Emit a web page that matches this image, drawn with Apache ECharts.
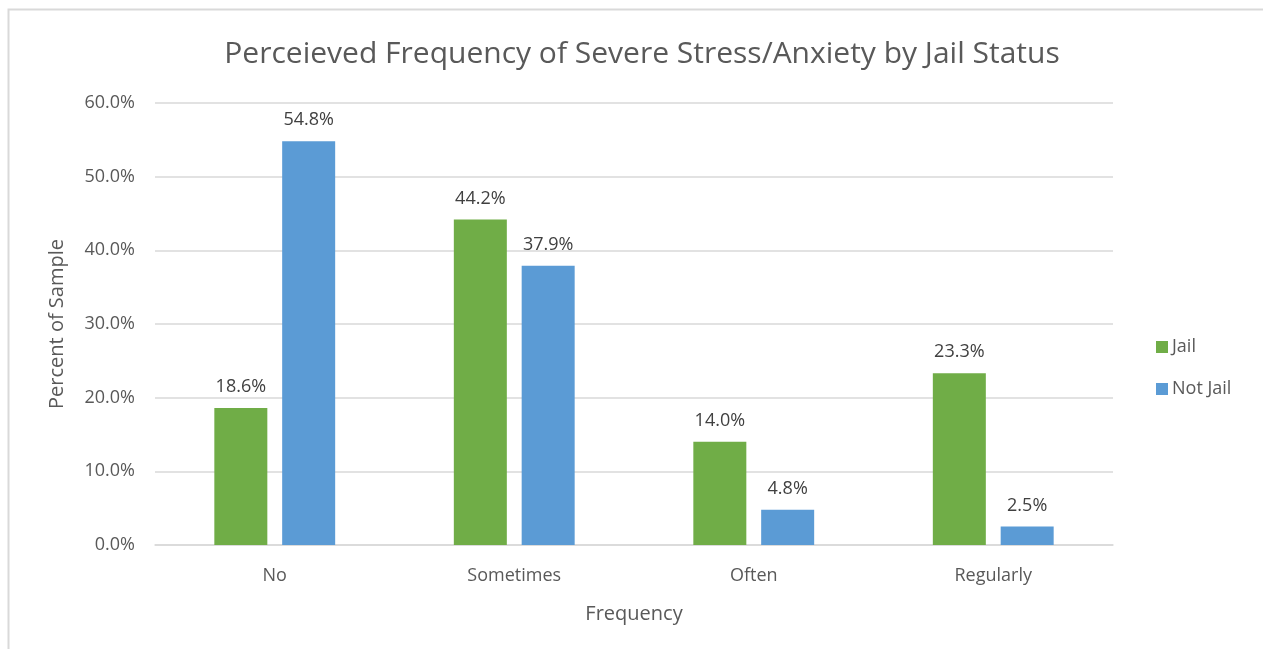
<!DOCTYPE html>
<html>
<head>
<meta charset="utf-8">
<script src="https://cdn.jsdelivr.net/npm/echarts@6/dist/echarts.min.js"></script>
<style>
  html, body { margin: 0; padding: 0; background: #ffffff; }
  #chart { width: 1263px; height: 649px; }
</style>
</head>
<body>
<div id="chart"></div>
<script>
// Response categories along the x axis
const categories = ['No', 'Sometimes', 'Often', 'Regularly'];
// Percent of sample per group
const jailValues = [18.6, 44.2, 14.0, 23.3];
const notJailValues = [54.8, 37.9, 4.8, 2.5];
const seriesNames = ['Jail', 'Not Jail'];

const FONT = '"Open Sans", Lato, sans-serif';
const TEXT = '#595959';

const chart = echarts.init(document.getElementById('chart'), null, { renderer: 'canvas' });

const labelStyle = {
  show: true,
  position: 'top',
  distance: 12,
  fontFamily: FONT,
  fontSize: 18,
  color: '#404040',
  formatter: p => p.value.toFixed(1) + '%'
};

chart.setOption({
  backgroundColor: '#ffffff',
  animation: false,
  graphic: [{
    type: 'rect',
    shape: { x: 8.5, y: 9.5, width: 1300, height: 700 },
    style: { fill: 'none', stroke: '#d9d9d9', lineWidth: 2 },
    silent: true
  }],
  title: {
    text: 'Perceieved Frequency of Severe Stress/Anxiety by Jail Status',
    left: 637,
    textAlign: 'center',
    top: 34,
    textStyle: { fontFamily: FONT, fontSize: 30, fontWeight: 'normal', color: TEXT }
  },
  legend: {
    orient: 'vertical',
    left: 1151,
    top: 333,
    itemWidth: 12,
    itemHeight: 12,
    itemGap: 24,
    icon: 'rect',
    data: seriesNames,
    textStyle: { fontFamily: FONT, fontSize: 18, color: TEXT, padding: [0, 0, 0, -1] }
  },
  grid: { left: 155, right: 150, top: 103, bottom: 104, containLabel: false },
  xAxis: {
    type: 'category',
    data: categories,
    name: 'Frequency',
    nameLocation: 'middle',
    nameGap: 59,
    nameTextStyle: { fontFamily: FONT, fontSize: 20, color: TEXT },
    axisLine: { lineStyle: { color: '#d9d9d9', width: 1.5 } },
    axisTick: { show: false },
    axisLabel: { fontFamily: FONT, fontSize: 18, color: TEXT, margin: 22 }
  },
  yAxis: {
    type: 'value',
    min: 0,
    max: 60,
    interval: 10,
    name: 'Percent of Sample',
    nameLocation: 'middle',
    nameGap: 88,
    nameRotate: 90,
    nameTextStyle: { fontFamily: FONT, fontSize: 20, color: TEXT },
    axisLine: { show: false },
    axisTick: { show: false },
    axisLabel: {
      fontFamily: FONT, fontSize: 18, color: TEXT, margin: 20,
      formatter: v => v.toFixed(1) + '%'
    },
    splitLine: { lineStyle: { color: '#d9d9d9', width: 1.5 } }
  },
  series: [
    {
      name: seriesNames[0],
      type: 'bar',
      data: jailValues,
      barWidth: 53,
      barGap: '28%',
      itemStyle: { color: '#70ad47' },
      label: labelStyle
    },
    {
      name: seriesNames[1],
      type: 'bar',
      data: notJailValues,
      barWidth: 53,
      itemStyle: { color: '#5b9bd5' },
      label: labelStyle
    }
  ]
});
</script>
</body>
</html>
